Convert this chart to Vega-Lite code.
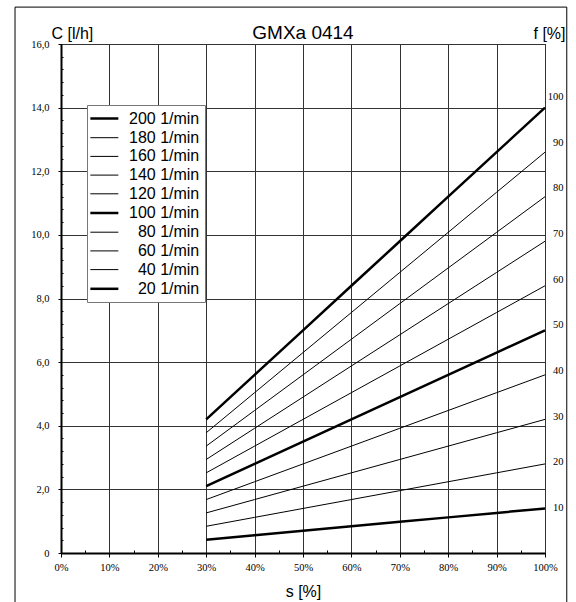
{
  "$schema": "https://vega.github.io/schema/vega-lite/v6.json",
  "width": 484,
  "height": 509,
  "autosize": "none",
  "padding": {"left": 61, "top": 44, "right": 31, "bottom": 49},
  "background": "white",
  "title": {
    "text": "GMXa 0414",
    "font": "Liberation Sans",
    "fontSize": 19,
    "fontWeight": "normal",
    "color": "black",
    "anchor": "middle",
    "frame": "group",
    "baseline": "alphabetic",
    "offset": 5,
    "dy": 56
  },
  "config": {
    "view": {"stroke": "black", "strokeWidth": 1},
    "font": "Liberation Sans"
  },
  "layer": [
    {
      "layer": [
        {
          "data": {"values": [{}]},
          "mark": {"type": "rect", "filled": false, "stroke": "black", "strokeWidth": 1, "clip": false},
          "encoding": {
            "x": {"datum": -9.5, "type": "quantitative", "scale": {"domain": [0, 100], "nice": false}},
            "x2": {"datum": 104.5},
            "y": {"datum": 17.16, "type": "quantitative", "scale": {"domain": [0, 16], "nice": false}},
            "y2": {"datum": -2}
          }
        },
        {
          "data": {
            "values": [
              {"rpm": 200, "s": 30, "C": 4.2}, {"rpm": 200, "s": 40, "C": 5.6}, {"rpm": 200, "s": 50, "C": 7.0}, {"rpm": 200, "s": 60, "C": 8.4},
              {"rpm": 200, "s": 70, "C": 9.8}, {"rpm": 200, "s": 80, "C": 11.2}, {"rpm": 200, "s": 90, "C": 12.6}, {"rpm": 200, "s": 100, "C": 14.0},
              {"rpm": 180, "s": 30, "C": 3.78}, {"rpm": 180, "s": 40, "C": 5.04}, {"rpm": 180, "s": 50, "C": 6.3}, {"rpm": 180, "s": 60, "C": 7.56},
              {"rpm": 180, "s": 70, "C": 8.82}, {"rpm": 180, "s": 80, "C": 10.08}, {"rpm": 180, "s": 90, "C": 11.34}, {"rpm": 180, "s": 100, "C": 12.6},
              {"rpm": 160, "s": 30, "C": 3.36}, {"rpm": 160, "s": 40, "C": 4.48}, {"rpm": 160, "s": 50, "C": 5.6}, {"rpm": 160, "s": 60, "C": 6.72},
              {"rpm": 160, "s": 70, "C": 7.84}, {"rpm": 160, "s": 80, "C": 8.96}, {"rpm": 160, "s": 90, "C": 10.08}, {"rpm": 160, "s": 100, "C": 11.2},
              {"rpm": 140, "s": 30, "C": 2.94}, {"rpm": 140, "s": 40, "C": 3.92}, {"rpm": 140, "s": 50, "C": 4.9}, {"rpm": 140, "s": 60, "C": 5.88},
              {"rpm": 140, "s": 70, "C": 6.86}, {"rpm": 140, "s": 80, "C": 7.84}, {"rpm": 140, "s": 90, "C": 8.82}, {"rpm": 140, "s": 100, "C": 9.8},
              {"rpm": 120, "s": 30, "C": 2.52}, {"rpm": 120, "s": 40, "C": 3.36}, {"rpm": 120, "s": 50, "C": 4.2}, {"rpm": 120, "s": 60, "C": 5.04},
              {"rpm": 120, "s": 70, "C": 5.88}, {"rpm": 120, "s": 80, "C": 6.72}, {"rpm": 120, "s": 90, "C": 7.56}, {"rpm": 120, "s": 100, "C": 8.4},
              {"rpm": 100, "s": 30, "C": 2.1}, {"rpm": 100, "s": 40, "C": 2.8}, {"rpm": 100, "s": 50, "C": 3.5}, {"rpm": 100, "s": 60, "C": 4.2},
              {"rpm": 100, "s": 70, "C": 4.9}, {"rpm": 100, "s": 80, "C": 5.6}, {"rpm": 100, "s": 90, "C": 6.3}, {"rpm": 100, "s": 100, "C": 7.0},
              {"rpm": 80, "s": 30, "C": 1.68}, {"rpm": 80, "s": 40, "C": 2.24}, {"rpm": 80, "s": 50, "C": 2.8}, {"rpm": 80, "s": 60, "C": 3.36},
              {"rpm": 80, "s": 70, "C": 3.92}, {"rpm": 80, "s": 80, "C": 4.48}, {"rpm": 80, "s": 90, "C": 5.04}, {"rpm": 80, "s": 100, "C": 5.6},
              {"rpm": 60, "s": 30, "C": 1.26}, {"rpm": 60, "s": 40, "C": 1.68}, {"rpm": 60, "s": 50, "C": 2.1}, {"rpm": 60, "s": 60, "C": 2.52},
              {"rpm": 60, "s": 70, "C": 2.94}, {"rpm": 60, "s": 80, "C": 3.36}, {"rpm": 60, "s": 90, "C": 3.78}, {"rpm": 60, "s": 100, "C": 4.2},
              {"rpm": 40, "s": 30, "C": 0.84}, {"rpm": 40, "s": 40, "C": 1.12}, {"rpm": 40, "s": 50, "C": 1.4}, {"rpm": 40, "s": 60, "C": 1.68},
              {"rpm": 40, "s": 70, "C": 1.96}, {"rpm": 40, "s": 80, "C": 2.24}, {"rpm": 40, "s": 90, "C": 2.52}, {"rpm": 40, "s": 100, "C": 2.8},
              {"rpm": 20, "s": 30, "C": 0.42}, {"rpm": 20, "s": 40, "C": 0.56}, {"rpm": 20, "s": 50, "C": 0.7}, {"rpm": 20, "s": 60, "C": 0.84},
              {"rpm": 20, "s": 70, "C": 0.98}, {"rpm": 20, "s": 80, "C": 1.12}, {"rpm": 20, "s": 90, "C": 1.26}, {"rpm": 20, "s": 100, "C": 1.4}
            ]
          },
          "mark": {"type": "line", "color": "black", "strokeCap": "butt"},
          "encoding": {
            "x": {
              "field": "s",
              "type": "quantitative",
              "scale": {"domain": [0, 100], "nice": false},
              "axis": {
                "title": "s [%]",
                "titleFont": "Liberation Sans",
                "titleFontSize": 16,
                "titleFontWeight": "normal",
                "titleColor": "black",
                "titleY": 43,
                "titleBaseline": "alphabetic",
                "values": [0, 5, 10, 15, 20, 25, 30, 35, 40, 45, 50, 55, 60, 65, 70, 75, 80, 85, 90, 95, 100],
                "tickCount": 100,
                "labelExpr": "datum.value % 10 == 0 ? datum.value + '%' : ''",
                "labelFont": "Liberation Serif",
                "labelFontSize": 10.5,
                "labelColor": "black",
                "labelPadding": 5,
                "labelFlush": false,
                "labelOverlap": false,
                "grid": true,
                "gridColor": "#333",
                "gridOpacity": {"condition": {"test": "datum.value % 10 != 0", "value": 0}, "value": 1},
                "tickColor": "black",
                "tickSize": {"condition": {"test": "datum.value % 10 != 0", "value": -3}, "value": 4},
                "domainColor": "black",
                "domainWidth": 2
              }
            },
            "y": {
              "field": "C",
              "type": "quantitative",
              "scale": {"domain": [0, 16], "nice": false},
              "axis": {
                "title": "C [l/h]",
                "titleFont": "Liberation Sans",
                "titleFontSize": 16,
                "titleFontWeight": "normal",
                "titleColor": "black",
                "titleAngle": 0,
                "titleAlign": "left",
                "titleBaseline": "alphabetic",
                "titleX": -10,
                "titleY": -5.5,
                "values": [0, 0.4, 0.8, 1.2, 1.6, 2, 2.4, 2.8, 3.2, 3.6, 4, 4.4, 4.8, 5.2, 5.6, 6, 6.4, 6.8, 7.2, 7.6, 8, 8.4, 8.8, 9.2, 9.6, 10, 10.4, 10.8, 11.2, 11.6, 12, 12.4, 12.8, 13.2, 13.6, 14, 14.4, 14.8, 15.2, 15.6, 16],
                "tickCount": 100,
                "labelExpr": "datum.value % 2 != 0 ? '' : (datum.value == 0 ? '0' : replace(format(datum.value, '.1f'), '.', ','))",
                "labelFont": "Liberation Serif",
                "labelFontSize": 10.5,
                "labelColor": "black",
                "labelPadding": 9,
                "labelFlush": false,
                "labelOverlap": false,
                "grid": true,
                "gridColor": "#333",
                "gridOpacity": {"condition": {"test": "datum.value % 2 != 0", "value": 0}, "value": 1},
                "tickColor": "black",
                "tickSize": {"condition": {"test": "datum.value % 2 != 0", "value": -2}, "value": 3},
                "domainColor": "black",
                "domainWidth": 2
              }
            },
            "strokeWidth": {
              "field": "rpm",
              "type": "ordinal",
              "scale": {
                "type": "ordinal",
                "domain": [200, 180, 160, 140, 120, 100, 80, 60, 40, 20],
                "range": [2.5, 1, 1, 1, 1, 2.5, 1, 1, 1, 2.5]
              },
              "legend": {
                "title": null,
                "orient": "none",
                "legendX": 26,
                "legendY": 61,
                "symbolType": "M-1.45,0H2.55",
                "symbolSize": 196,
                "symbolStrokeColor": "black",
                "symbolFillColor": "transparent",
                "labelFont": "Liberation Sans",
                "labelFontSize": 16,
                "labelColor": "black",
                "labelOffset": 20,
                "labelLimit": 200,
                "labelExpr": "(datum.value < 100 ? '\u200b\u2007' : '') + datum.value + ' 1/min'",
                "rowPadding": 2.7,
                "padding": 5,
                "strokeColor": "#777",
                "fillColor": "white"
              }
            }
          }
        }
      ]
    },
    {
      "data": {"values": [{}]},
      "mark": {"type": "rule", "opacity": 0},
      "encoding": {
        "y": {
          "datum": 50,
          "type": "quantitative",
          "scale": {"domain": [0, 111.5], "nice": false},
          "axis": {
            "orient": "right",
            "values": [10, 20, 30, 40, 50, 60, 70, 80, 90, 100],
            "domain": false,
            "ticks": false,
            "tickSize": 0,
            "grid": false,
            "labelFont": "Liberation Serif",
            "labelFontSize": 10.5,
            "labelColor": "black",
            "labelAlign": "right",
            "labelPadding": 18,
            "labelFlush": false,
            "labelOverlap": false,
            "title": "f [%]",
            "titleFont": "Liberation Sans",
            "titleFontSize": 16,
            "titleFontWeight": "normal",
            "titleColor": "black",
            "titleAngle": 0,
            "titleAlign": "left",
            "titleBaseline": "alphabetic",
            "titleX": -12,
            "titleY": -5.5
          }
        }
      }
    }
  ],
  "resolve": {"scale": {"y": "independent"}}
}
